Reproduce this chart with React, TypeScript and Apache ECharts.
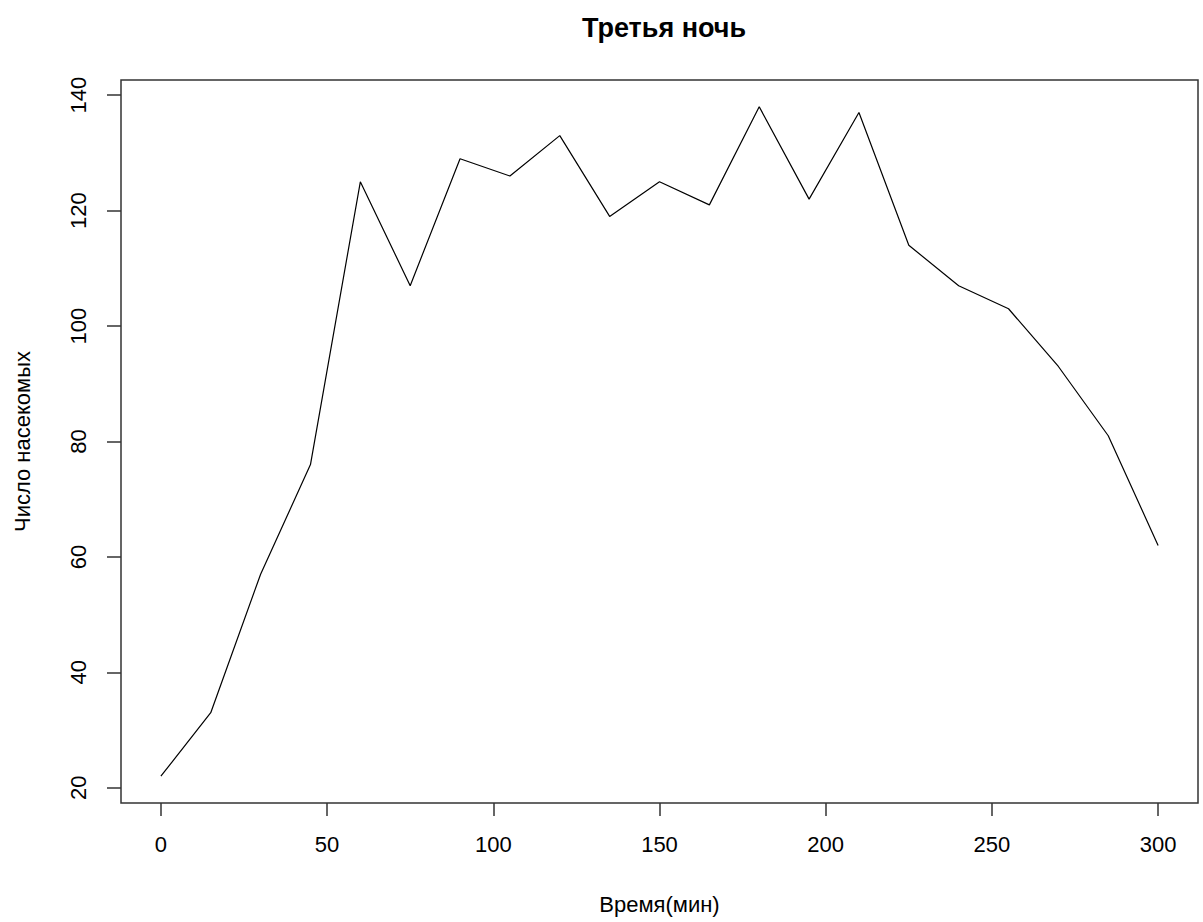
import React, { useEffect, useRef } from "react";
import * as echarts from "echarts";

// Observation times (minutes) and insect counts for the third night
const minutes: number[] = [0, 15, 30, 45, 60, 75, 90, 105, 120, 135, 150, 165, 180, 195, 210, 225, 240, 255, 270, 285, 300];
const insects: number[] = [22, 33, 57, 76, 125, 107, 129, 126, 133, 119, 125, 121, 138, 122, 137, 114, 107, 103, 93, 81, 62];

const xTicks: number[] = [0, 50, 100, 150, 200, 250, 300];
const yTicks: number[] = [20, 40, 60, 80, 100, 120, 140];

const FONT = "'Liberation Sans', Arial, sans-serif";

// R-style 4% padding around the data range
function padded(values: number[]): [number, number] {
  const lo = Math.min(...values);
  const hi = Math.max(...values);
  const d = (hi - lo) * 0.04;
  return [lo - d, hi + d];
}

export default function App() {
  const ref = useRef<HTMLDivElement>(null);

  useEffect(() => {
    if (!ref.current) return;
    const chart = echarts.init(ref.current, undefined, { renderer: "svg" });
    const [xMin, xMax] = padded(minutes);
    const [yMin, yMax] = padded(insects);
    const axisColor = "#333";

    chart.setOption({
      animation: false,
      backgroundColor: "#fff",
      title: {
        text: "Третья ночь",
        left: 659,
        top: 9,
        textAlign: "center",
        textStyle: { fontFamily: FONT, fontSize: 27, fontWeight: "bold", color: "#000" },
      },
      grid: {
        left: 121,
        right: 5,
        top: 80,
        bottom: 119,
        show: true,
        borderColor: axisColor,
        borderWidth: 1.5,
        backgroundColor: "transparent",
      },
      xAxis: {
        type: "value",
        min: xMin,
        max: xMax,
        name: "Время(мин)",
        nameLocation: "middle",
        nameGap: 90,
        nameTextStyle: { fontFamily: FONT, fontSize: 22, color: "#000" },
        axisLine: { show: false, onZero: false },
        splitLine: { show: false },
        axisTick: {
          show: true,
          length: 13,
          customValues: xTicks,
          lineStyle: { color: axisColor, width: 1.5 },
        },
        axisLabel: {
          customValues: xTicks,
          margin: 30,
          fontFamily: FONT,
          fontSize: 22,
          color: "#000",
        },
      },
      yAxis: {
        type: "value",
        min: yMin,
        max: yMax,
        name: "Число насекомых",
        nameLocation: "middle",
        nameRotate: 90,
        nameGap: 88,
        nameTextStyle: { fontFamily: FONT, fontSize: 22, color: "#000" },
        axisLine: { show: false, onZero: false },
        splitLine: { show: false },
        axisTick: {
          show: true,
          length: 14,
          customValues: yTicks,
          lineStyle: { color: axisColor, width: 1.5 },
        },
        axisLabel: {
          customValues: yTicks,
          rotate: 90,
          margin: 32,
          fontFamily: FONT,
          fontSize: 22,
          color: "#000",
        },
      },
      series: [
        {
          type: "line",
          data: minutes.map((m, i) => [m, insects[i]]),
          showSymbol: false,
          symbol: "none",
          lineStyle: { color: "#000", width: 1.2 },
          silent: true,
        },
      ],
    });

    return () => chart.dispose();
  }, []);

  return (
    <div
      ref={ref}
      style={{ position: "absolute", left: 0, top: 0, width: 1203, height: 922, background: "#fff" }}
    />
  );
}
